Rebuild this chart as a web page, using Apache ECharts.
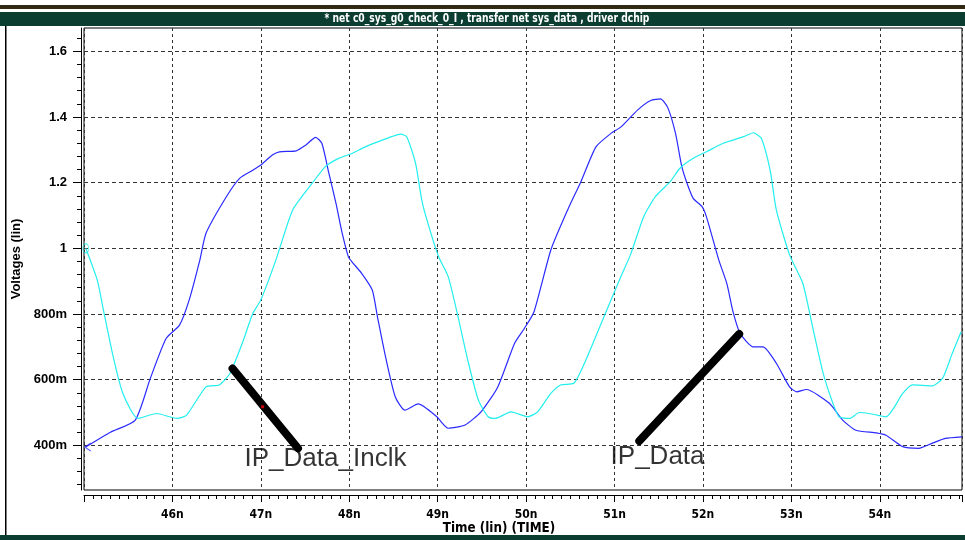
<!DOCTYPE html>
<html><head><meta charset="utf-8">
<script src="https://cdn.jsdelivr.net/npm/echarts@6/dist/echarts.min.js"></script>
<style>html,body{margin:0;padding:0;background:#fff}#c{width:965px;height:540px}</style>
</head><body><div id="c"></div><script>
// ---- data ----
const titleText = '* net c0_sys_g0_check_0_I , transfer net sys_data , driver dchip';
const xAxisTitle = 'Time (lin) (TIME)';
const yAxisTitle = 'Voltages (lin)';
const xTickValues = [46, 47, 48, 49, 50, 51, 52, 53, 54];
const xTickLabels = ['46n', '47n', '48n', '49n', '50n', '51n', '52n', '53n', '54n'];
const yTickValues = [0.4, 0.6, 0.8, 1, 1.2, 1.4, 1.6];
const yTickLabels = ['400m', '600m', '800m', '1', '1.2', '1.4', '1.6'];

const blueT = [45.02,45.30,45.58,45.75,45.93,46.08,46.19,46.31,46.38,46.61,46.76,46.91,47.00,47.13,47.21,47.40,47.51,47.62,47.69,47.77,47.85,47.92,47.99,48.03,48.14,48.26,48.32,48.41,48.52,48.63,48.78,48.99,49.12,49.31,49.49,49.68,49.87,49.98,50.09,50.28,50.47,50.62,50.79,50.96,51.07,51.26,51.41,51.52,51.60,51.69,51.76,51.82,51.89,51.99,52.04,52.18,52.27,52.34,52.42,52.57,52.68,52.83,52.98,53.06,53.17,53.43,53.58,53.73,53.96,54.07,54.26,54.44,54.59,54.74,54.93];
const blueV = [0.395,0.44,0.477,0.604,0.726,0.766,0.843,0.964,1.046,1.157,1.213,1.238,1.254,1.284,1.294,1.297,1.315,1.338,1.320,1.228,1.137,1.046,0.974,0.959,0.924,0.873,0.79,0.67,0.548,0.507,0.526,0.487,0.452,0.462,0.502,0.578,0.711,0.756,0.807,0.995,1.117,1.203,1.309,1.350,1.369,1.421,1.450,1.455,1.43,1.35,1.25,1.198,1.152,1.127,1.096,0.964,0.893,0.807,0.741,0.700,0.700,0.650,0.578,0.563,0.570,0.528,0.477,0.446,0.438,0.431,0.396,0.391,0.406,0.421,0.426];

const cyanT = [45.02,45.15,45.22,45.33,45.44,45.61,45.82,46.05,46.16,46.38,46.53,46.65,46.79,46.91,47.00,47.17,47.36,47.58,47.73,47.88,48.03,48.18,48.33,48.48,48.58,48.65,48.75,48.82,48.89,49.01,49.12,49.23,49.34,49.46,49.57,49.65,49.83,50.02,50.13,50.28,50.39,50.54,50.66,50.92,51.07,51.18,51.33,51.46,51.63,51.74,51.89,52.04,52.23,52.46,52.57,52.66,52.76,52.83,52.98,53.13,53.24,53.36,53.47,53.54,53.66,53.77,53.88,54.07,54.26,54.37,54.59,54.71,54.82,54.92];
const cyanV = [1.0,0.903,0.812,0.670,0.558,0.482,0.497,0.482,0.492,0.578,0.584,0.619,0.711,0.802,0.843,0.964,1.117,1.198,1.249,1.274,1.289,1.309,1.325,1.340,1.348,1.340,1.259,1.147,1.076,0.975,0.913,0.792,0.660,0.538,0.487,0.482,0.502,0.487,0.502,0.558,0.584,0.589,0.650,0.817,0.913,0.98,1.096,1.157,1.203,1.244,1.274,1.294,1.320,1.340,1.352,1.335,1.238,1.117,0.98,0.893,0.761,0.619,0.528,0.487,0.482,0.500,0.497,0.487,0.558,0.584,0.581,0.604,0.680,0.746];

const inclkLineT = [46.68, 47.42];
const inclkLineV = [0.634, 0.391];
const dataLineT = [51.28, 52.41];
const dataLineV = [0.413, 0.739];
const redDotT = [47.02];
const redDotV = [0.5175];
const noteNames = ['IP_Data_Inclk', 'IP_Data'];
const noteT = [46.81, 50.95];
const noteV = [0.358, 0.364];

// ---- chart ----
const X_MIN = 45, X_MAX = 54.93, Y_MIN = 0.264, Y_MAX = 1.671;
const zip = (a, b) => a.map((v, i) => [v, b[i]]);
const yMinorTicks = [];
for (let k = 7; k <= 41; k++) yMinorTicks.push(+(k * 0.04).toFixed(2));
const narrow = "'Liberation Sans Narrow','DejaVu Sans Condensed',sans-serif";
const lab = (vals, labels, v) => { const i = vals.findIndex(x => Math.abs(x - v) < 1e-6); return i >= 0 ? labels[i] : ''; };

const chart = echarts.init(document.getElementById('c'), null, {renderer: 'canvas'});
chart.setOption({
  animation: false,
  backgroundColor: '#fff',
  grid: {left: 84, right: 0, top: 28, bottom: 50, show: true, borderColor: '#000', borderWidth: 1, backgroundColor: '#fff'},
  xAxis: {
    type: 'value', min: X_MIN, max: X_MAX, interval: 1, offset: 5,
    axisLine: {show: true, lineStyle: {color: '#000', width: 1}},
    axisTick: {show: true, length: 7, lineStyle: {color: '#000'}},
    minorTick: {show: true, splitNumber: 10, length: 4, lineStyle: {color: '#000'}},
    axisLabel: {margin: 14, color: '#000', fontFamily: narrow, fontWeight: 'bold', fontSize: 12,
      formatter: v => lab(xTickValues, xTickLabels, v)},
    splitLine: {show: true, lineStyle: {color: '#333', type: [3, 3], width: 1}}
  },
  yAxis: [{
    type: 'value', min: Y_MIN, max: Y_MAX, position: 'left', offset: 3,
    axisLine: {show: true, lineStyle: {color: '#000', width: 1}},
    axisTick: {show: true, length: 4, customValues: yMinorTicks, lineStyle: {color: '#000'}},
    axisLabel: {show: false},
    splitLine: {show: false}
  }, {
    type: 'value', min: Y_MIN, max: Y_MAX, position: 'left', offset: 3,
    axisLine: {show: false},
    axisTick: {show: true, length: 8, customValues: yTickValues, lineStyle: {color: '#000'}},
    axisLabel: {show: true, customValues: yTickValues, margin: 14, color: '#000', fontFamily: 'Liberation Sans, Arial, sans-serif', fontWeight: 'bold', fontSize: 13,
      formatter: v => lab(yTickValues, yTickLabels, v)},
    splitLine: {show: true, lineStyle: {color: '#333', type: [4, 3], width: 1}},
    name: yAxisTitle, nameLocation: 'middle', nameGap: 58, nameRotate: 90,
    nameTextStyle: {color: '#000', fontFamily: 'Liberation Sans, Arial, sans-serif', fontWeight: 'bold', fontSize: 13}
  }],
  graphic: [
    {type: 'rect', shape: {x: 0, y: 5, width: 965, height: 4}, style: {fill: '#302913'}, silent: true},
    {type: 'rect', shape: {x: 0, y: 12, width: 965, height: 14}, style: {fill: '#0b3e30'}, silent: true},
    {type: 'text', x: 487, y: 19, scaleX: 0.85, style: {text: titleText, x: 0, y: 0, fill: '#fff', font: "bold 12px " + narrow, textAlign: 'center', textVerticalAlign: 'middle'}, silent: true},
    {type: 'rect', shape: {x: 5, y: 26, width: 1.5, height: 510}, style: {fill: '#000'}, silent: true},
    {type: 'rect', shape: {x: 0, y: 535, width: 965, height: 5}, style: {fill: '#0b3e30'}, silent: true},
    {type: 'text', x: 499, y: 528, scaleX: 0.95, style: {text: xAxisTitle, x: 0, y: 0, fill: '#000', font: "bold 14px " + narrow, textAlign: 'center', textVerticalAlign: 'middle'}, silent: true}
  ],
  series: [
    {type: 'line', name: 'IP_Data', data: zip(blueT, blueV), symbol: 'none', smooth: 0.2, z: 3,
      lineStyle: {color: '#2a2aff', width: 1.2}},
    {type: 'line', name: 'IP_Data_Inclk', data: zip(cyanT, cyanV), symbol: 'none', smooth: 0.2, z: 3,
      lineStyle: {color: '#22eeee', width: 1.2}},
    {type: 'scatter', data: [[cyanT[0], cyanV[0]]], symbol: 'circle', symbolSize: [6, 9], z: 4,
      itemStyle: {color: 'rgba(0,0,0,0)', borderColor: '#22eeee', borderWidth: 1}},
    {type: 'scatter', data: [[blueT[0], blueV[0]]], symbol: 'path://M8,0 L0,4 L8,8', symbolSize: [6, 8], symbolOffset: [2, 0], z: 4,
      itemStyle: {color: 'rgba(0,0,0,0)', borderColor: '#2a2aff', borderWidth: 1}},
    {type: 'line', data: zip(inclkLineT, inclkLineV), symbol: 'none', z: 5,
      lineStyle: {color: '#000', width: 8, cap: 'round'}},
    {type: 'line', data: zip(dataLineT, dataLineV), symbol: 'none', z: 5,
      lineStyle: {color: '#000', width: 8, cap: 'round'}},
    {type: 'scatter', data: zip(redDotT, redDotV), symbol: 'rect', symbolSize: 3, z: 6, itemStyle: {color: '#ff0000'}},
    {type: 'scatter', data: noteNames.map((n, i) => ({name: n, value: [noteT[i], noteV[i]]})), symbolSize: 1, z: 6,
      itemStyle: {color: 'rgba(0,0,0,0)'},
      label: {show: true, position: 'right', distance: 0, formatter: p => p.name, color: '#000', fontSize: 26, fontFamily: 'Liberation Sans, Arial, sans-serif'}}
  ]
});
</script></body></html>
